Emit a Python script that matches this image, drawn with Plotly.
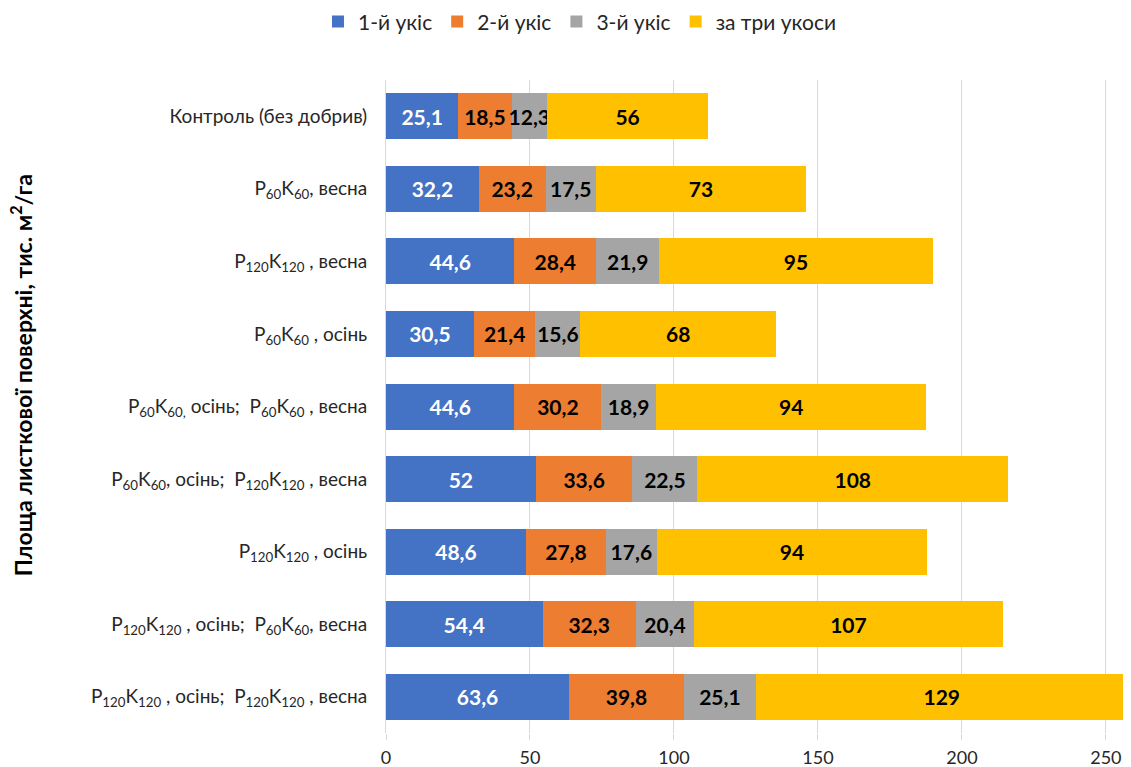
import plotly.graph_objects as go

categories = [
    "Контроль (без добрив)",
    "P<sub>60</sub>K<sub>60</sub>, весна",
    "P<sub>120</sub>K<sub>120</sub> , весна",
    "P<sub>60</sub>K<sub>60</sub> , осінь",
    "P<sub>60</sub>K<sub>60,</sub> осінь;  P<sub>60</sub>K<sub>60</sub> , весна",
    "P<sub>60</sub>K<sub>60</sub>, осінь;  P<sub>120</sub>K<sub>120</sub> , весна",
    "P<sub>120</sub>K<sub>120</sub> , осінь",
    "P<sub>120</sub>K<sub>120</sub> , осінь;  P<sub>60</sub>K<sub>60</sub>, весна",
    "P<sub>120</sub>K<sub>120</sub> , осінь;  P<sub>120</sub>K<sub>120</sub> , весна",
]
cut1 = [25.1, 32.2, 44.6, 30.5, 44.6, 52, 48.6, 54.4, 63.6]
cut2 = [18.5, 23.2, 28.4, 21.4, 30.2, 33.6, 27.8, 32.3, 39.8]
cut3 = [12.3, 17.5, 21.9, 15.6, 18.9, 22.5, 17.6, 20.4, 25.1]
total3 = [56, 73, 95, 68, 94, 108, 94, 107, 129]

series_names = ["1-й укіс", "2-й укіс", "3-й укіс", "за три укоси"]
series_values = [cut1, cut2, cut3, total3]
colors = ["#4472C4", "#ED7D31", "#A5A5A5", "#FFC000"]
label_colors = ["white", "black", "black", "black"]
x_ticks = [0, 50, 100, 150, 200, 250]

FONT = "Lato, Open Sans, sans-serif"


def fmt(v):
    return ("%g" % v).replace(".", ",")


fig = go.Figure()
for name, vals, col, lc in zip(series_names, series_values, colors, label_colors):
    fig.add_trace(go.Bar(
        y=categories, x=vals, name=name, orientation="h",
        marker=dict(color=col, line=dict(width=0)),
        text=[fmt(v) for v in vals], textposition="inside",
        insidetextanchor="middle", textangle=0,
        textfont=dict(family=FONT, size=21, color=lc, weight="bold"),
        constraintext="none",
    ))

# the page body adds an 8 px offset; the figure is sized to fill the rest
fig.update_layout(
    barmode="stack", bargap=0.366,
    width=1131, height=759,
    margin=dict(l=378, r=0, t=72, b=34, autoexpand=False),
    plot_bgcolor="white", paper_bgcolor="white",
    font=dict(family=FONT, color="#262626"),
    legend=dict(orientation="h", xref="paper", x=0.2576, xanchor="center",
                yref="paper", y=1.089, yanchor="middle",
                font=dict(size=21, family=FONT, color="#262626"),
                itemwidth=30, traceorder="normal"),
    showlegend=True,
)
fig.update_xaxes(range=[0, 261.5], tickvals=x_ticks, showgrid=True,
                 gridcolor="#D9D9D9", gridwidth=1, zeroline=False,
                 ticks="outside", ticklen=6, tickcolor="#D9D9D9",
                 ticklabelstandoff=2, automargin=False,
                 tickfont=dict(size=18, family=FONT, color="#262626"),
                 showline=False)
fig.update_yaxes(categoryorder="array", categoryarray=categories,
                 autorange="reversed", ticks="", ticklabelstandoff=14,
                 automargin=False,
                 tickfont=dict(size=19, family=FONT, color="#262626"),
                 showline=True, linecolor="#D9D9D9", linewidth=1)
fig.add_annotation(text="<b>Площа листкової поверхні, тис. м<sup>2</sup>/га</b>",
                   xref="paper", yref="paper", x=-0.4847, y=0.548,
                   xanchor="center", yanchor="middle",
                   textangle=-90, showarrow=False,
                   font=dict(size=23, family=FONT, color="black"))

fig.write_html("out.html")
